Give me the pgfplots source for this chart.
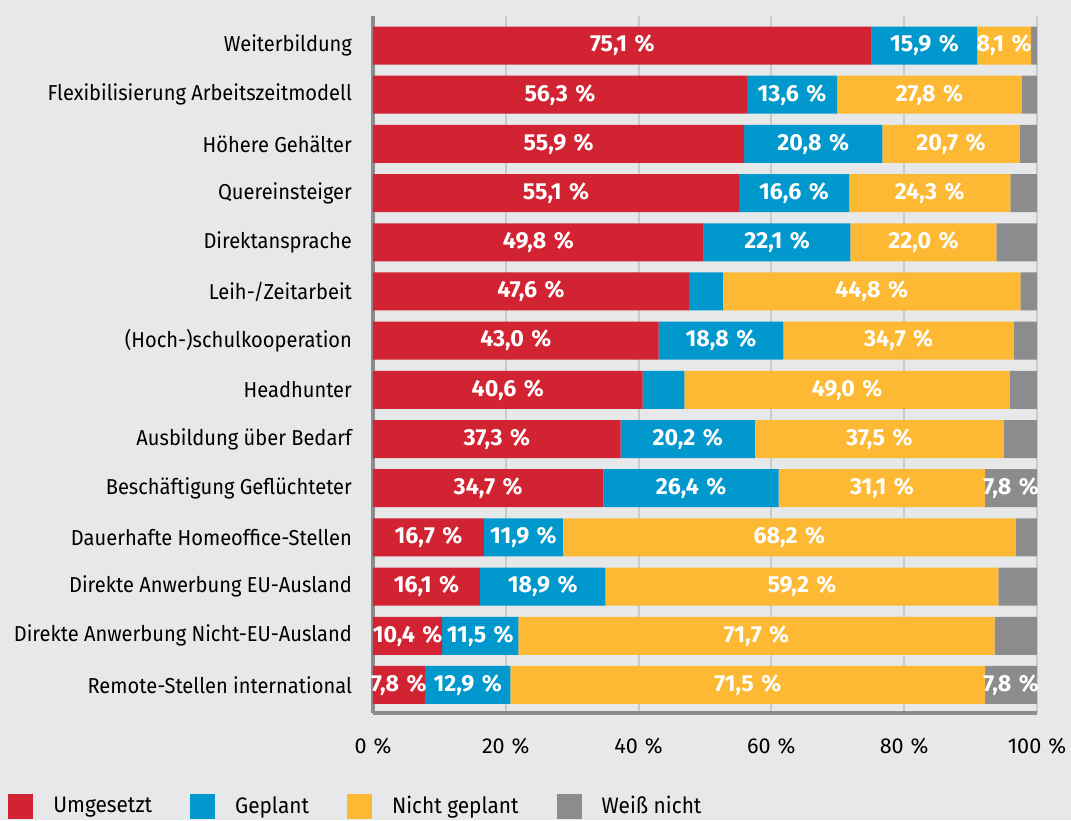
\documentclass[border=0pt]{standalone}
\usepackage{pgfplots}
\pgfplotsset{compat=1.18}
\usepackage{pgfplotstable}
\usepackage{fontspec}
\setmainfont{Fira Sans}[FakeStretch=0.93]
\newfontfamily\labfont{Fira Sans}
\DeclareRobustCommand{\pc}{\kern0.32em\%}
\definecolor{bg}{HTML}{E7E8EA}
\definecolor{cred}{HTML}{D22333}
\definecolor{cblue}{HTML}{0098CD}
\definecolor{cyel}{HTML}{FDB933}
\definecolor{cgray}{HTML}{8C8C8F}
\definecolor{gridgray}{HTML}{C9CACC}
\pgfplotstableread{
y u g n w lu lg ln lw
13 75.1 15.9 8.1 0.9 {75,1\pc} {15,9\pc} {8,1\pc} {}
12 56.3 13.6 27.8 2.3 {56,3\pc} {13,6\pc} {27,8\pc} {}
11 55.9 20.8 20.7 2.6 {55,9\pc} {20,8\pc} {20,7\pc} {}
10 55.1 16.6 24.3 4.0 {55,1\pc} {16,6\pc} {24,3\pc} {}
9 49.8 22.1 22.0 6.1 {49,8\pc} {22,1\pc} {22,0\pc} {}
8 47.6 5.1 44.8 2.5 {47,6\pc} {} {44,8\pc} {}
7 43.0 18.8 34.7 3.5 {43,0\pc} {18,8\pc} {34,7\pc} {}
6 40.6 6.3 49.0 4.1 {40,6\pc} {} {49,0\pc} {}
5 37.3 20.2 37.5 5.0 {37,3\pc} {20,2\pc} {37,5\pc} {}
4 34.7 26.4 31.1 7.8 {34,7\pc} {26,4\pc} {31,1\pc} {7,8\pc}
3 16.7 11.9 68.2 3.2 {16,7\pc} {11,9\pc} {68,2\pc} {}
2 16.1 18.9 59.2 5.8 {16,1\pc} {18,9\pc} {59,2\pc} {}
1 10.4 11.5 71.7 6.4 {10,4\pc} {11,5\pc} {71,7\pc} {}
0 7.8 12.9 71.5 7.8 {7,8\pc} {12,9\pc} {71,5\pc} {7,8\pc}
}\data
\begin{document}
\begin{tikzpicture}
\path[use as bounding box, fill=bg] (-186.5pt,-53.5pt) rectangle (349pt,356.5pt);
\begin{axis}[
  scale only axis, width=332pt, height=348.5pt,
  xbar stacked, bar width=19pt,
  xmin=0, xmax=100, ymin=-0.57, ymax=13.6,
  axis lines*=left,
  axis line style={draw=cgray, line width=2pt},
  xmajorgrids, grid style={draw=gridgray, line width=1pt},
  xtick={0,20,40,60,80,100},
  xticklabels={0\pc,20\pc,40\pc,60\pc,80\pc,100\pc},
  ytick={0,...,13},
  yticklabels={Remote-Stellen international, Direkte Anwerbung Nicht-EU-Ausland, Direkte Anwerbung EU-Ausland, Dauerhafte Homeoffice-Stellen, Beschäftigung Geflüchteter, Ausbildung über Bedarf, Headhunter, (Hoch-)schulkooperation, Leih-/Zeitarbeit, Direktansprache, Quereinsteiger, Höhere Gehälter, Flexibilisierung Arbeitszeitmodell, Weiterbildung},
  major tick length=0pt,
  tick label style={font=\fontsize{10.8}{13}\selectfont, text=black},
  yticklabel style={xshift=-7pt},
  xticklabel style={yshift=-9pt, font=\labfont\fontsize{10.8}{13}\selectfont},
  point meta=explicit symbolic,
  nodes near coords,
  nodes near coords style={font=\labfont\bfseries\fontsize{11.6}{14}\selectfont, text=white, anchor=center},
  legend image code/.code={\fill[#1] (0pt,-6pt) rectangle (12.5pt,6.5pt);},
  legend columns=4,
  legend style={at={(0,0)}, anchor=north west, xshift=-182.5pt, yshift=-39.5pt, draw=none, fill=none, inner sep=0pt, font=\fontsize{11.2}{13}\selectfont,
    /tikz/every odd column/.append style={column sep=8pt},
    /tikz/every even column/.append style={column sep=17pt}},
  legend cell align=left,
]
\addplot[fill=cred, draw=none, forget plot] table[x=u, y=y, meta=lu] {\data};
\addplot[fill=cblue, draw=none, forget plot] table[x=g, y=y, meta=lg] {\data};
\addplot[fill=cyel, draw=none, forget plot] table[x=n, y=y, meta=ln] {\data};
\addplot[fill=cgray, draw=none, forget plot] table[x=w, y=y, meta=lw] {\data};
\addlegendimage{fill=cred, draw=none}
\addlegendimage{fill=cblue, draw=none}
\addlegendimage{fill=cyel, draw=none}
\addlegendimage{fill=cgray, draw=none}
\legend{Umgesetzt, Geplant, Nicht geplant, Weiß nicht}
\end{axis}
\end{tikzpicture}
\end{document}
